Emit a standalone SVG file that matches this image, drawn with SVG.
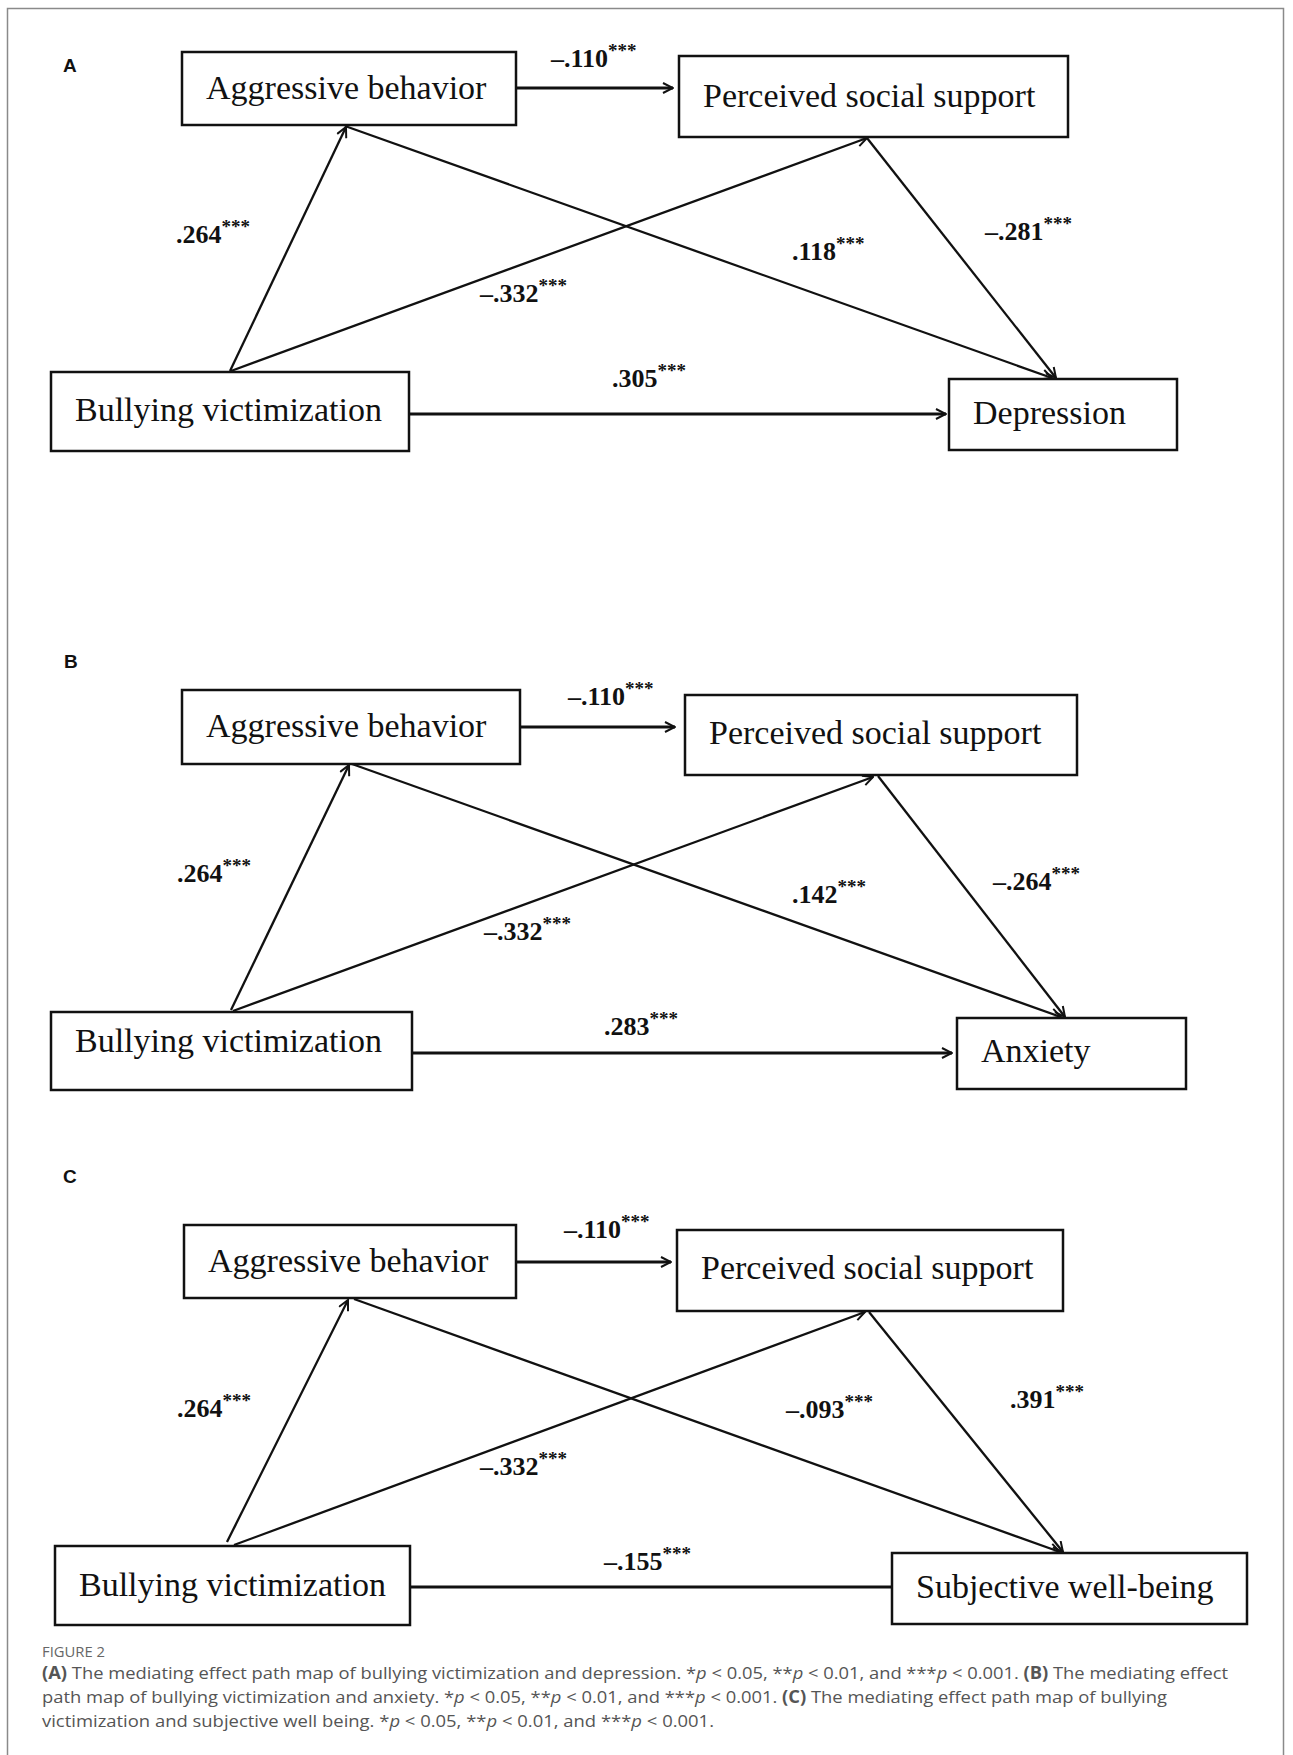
<svg xmlns="http://www.w3.org/2000/svg" width="1293" height="1755" viewBox="0 0 1293 1755">
<style>
.frame{fill:none;stroke:#8a8a8a;stroke-width:1.5}
.box{fill:#fff;stroke:#111;stroke-width:2.5}
.nt{font-family:"Liberation Serif","Times New Roman",serif;font-size:34px;fill:#111}
.edge{stroke:#111;stroke-width:2.3;fill:none}
.hedge{stroke:#111;stroke-width:2.8;fill:none}
.lbl{font-family:"Liberation Serif","Times New Roman",serif;font-weight:bold;font-size:26px;fill:#111}
.sup{font-size:19px}
.pl{font-family:"Liberation Sans",Arial,sans-serif;font-weight:bold;font-size:19px;fill:#111}
.fig{font-family:"Open Sans","Liberation Sans",sans-serif;font-size:15px;fill:#666}
.cap{font-family:"Open Sans","Liberation Sans",sans-serif;font-size:17px;fill:#555}
.b{font-weight:bold}
.i{font-style:italic}
</style>
<defs>
<marker id="arr" viewBox="0 0 12 12" markerWidth="12" markerHeight="12" markerUnits="userSpaceOnUse" refX="11" refY="6" orient="auto">
<path d="M1,1 L11,6 L1,11" fill="none" stroke="#111" stroke-width="2"/>
</marker>
</defs>
<rect width="1293" height="1755" fill="#fff"/>
<rect class="frame" x="7.5" y="8.5" width="1276" height="1760"/>

<!-- Panel A -->
<g id="panel-A">
<text class="pl" x="63" y="72">A</text>
<g id="connectors-A">
<path class="hedge" d="M516,88 L673,88" marker-end="url(#arr)"/>
<path class="edge" d="M230,371 L346,127" marker-end="url(#arr)"/>
<path class="edge" d="M231,371 L867,138" marker-end="url(#arr)"/>
<path class="edge" d="M345,126 L1052,378" marker-end="url(#arr)"/>
<path class="edge" d="M867,138 L1056,378" marker-end="url(#arr)"/>
<path class="hedge" d="M409,414 L946,414" marker-end="url(#arr)"/>
</g>
<g id="A-aggressive"><rect class="box" x="182" y="52" width="334" height="73"/><text class="nt" x="206" y="99">Aggressive behavior</text></g>
<g id="A-support"><rect class="box" x="679" y="56" width="389" height="81"/><text class="nt" x="703" y="107">Perceived social support</text></g>
<g id="A-bullying"><rect class="box" x="51" y="372" width="358" height="79"/><text class="nt" x="75" y="421">Bullying victimization</text></g>
<g id="A-depression"><rect class="box" x="949" y="379" width="228" height="71"/><text class="nt" x="973" y="424">Depression</text></g>
<g id="A-labels">
<text class="lbl" x="551" y="67">–.110<tspan class="sup" dy="-10">***</tspan></text>
<text class="lbl" x="176" y="243">.264<tspan class="sup" dy="-10">***</tspan></text>
<text class="lbl" x="480" y="302">–.332<tspan class="sup" dy="-10">***</tspan></text>
<text class="lbl" x="792" y="260">.118<tspan class="sup" dy="-10">***</tspan></text>
<text class="lbl" x="985" y="240">–.281<tspan class="sup" dy="-10">***</tspan></text>
<text class="lbl" x="612" y="387">.305<tspan class="sup" dy="-10">***</tspan></text>
</g>
</g>

<!-- Panel B -->
<g id="panel-B">
<text class="pl" x="64" y="668">B</text>
<g id="connectors-B">
<path class="hedge" d="M520,727 L675,727" marker-end="url(#arr)"/>
<path class="edge" d="M231,1010 L349,765" marker-end="url(#arr)"/>
<path class="edge" d="M233,1011 L873,777" marker-end="url(#arr)"/>
<path class="edge" d="M352,764 L1061,1017" marker-end="url(#arr)"/>
<path class="edge" d="M878,776 L1065,1017" marker-end="url(#arr)"/>
<path class="hedge" d="M412,1053 L952,1053" marker-end="url(#arr)"/>
</g>
<g id="B-aggressive"><rect class="box" x="182" y="690" width="338" height="74"/><text class="nt" x="206" y="737">Aggressive behavior</text></g>
<g id="B-support"><rect class="box" x="685" y="695" width="392" height="80"/><text class="nt" x="709" y="744">Perceived social support</text></g>
<g id="B-bullying"><rect class="box" x="51" y="1012" width="361" height="78"/><text class="nt" x="75" y="1052">Bullying victimization</text></g>
<g id="B-anxiety"><rect class="box" x="957" y="1018" width="229" height="71"/><text class="nt" x="981" y="1062">Anxiety</text></g>
<g id="B-labels">
<text class="lbl" x="568" y="705">–.110<tspan class="sup" dy="-10">***</tspan></text>
<text class="lbl" x="177" y="882">.264<tspan class="sup" dy="-10">***</tspan></text>
<text class="lbl" x="484" y="940">–.332<tspan class="sup" dy="-10">***</tspan></text>
<text class="lbl" x="792" y="903">.142<tspan class="sup" dy="-10">***</tspan></text>
<text class="lbl" x="993" y="890">–.264<tspan class="sup" dy="-10">***</tspan></text>
<text class="lbl" x="604" y="1035">.283<tspan class="sup" dy="-10">***</tspan></text>
</g>
</g>

<!-- Panel C -->
<g id="panel-C">
<text class="pl" x="63" y="1183">C</text>
<g id="connectors-C">
<path class="hedge" d="M516,1262 L671,1262" marker-end="url(#arr)"/>
<path class="edge" d="M227,1542 L348,1300" marker-end="url(#arr)"/>
<path class="edge" d="M234,1545 L865,1312" marker-end="url(#arr)"/>
<path class="edge" d="M354,1299 L1060,1552" marker-end="url(#arr)"/>
<path class="edge" d="M869,1312 L1063,1552" marker-end="url(#arr)"/>
<path class="hedge" d="M410,1587 L892,1587"/>
</g>
<g id="C-aggressive"><rect class="box" x="184" y="1225" width="332" height="73"/><text class="nt" x="208" y="1272">Aggressive behavior</text></g>
<g id="C-support"><rect class="box" x="677" y="1230" width="386" height="81"/><text class="nt" x="701" y="1279">Perceived social support</text></g>
<g id="C-bullying"><rect class="box" x="55" y="1546" width="355" height="79"/><text class="nt" x="79" y="1596">Bullying victimization</text></g>
<g id="C-wellbeing"><rect class="box" x="892" y="1553" width="355" height="71"/><text class="nt" x="916" y="1598">Subjective well-being</text></g>
<g id="C-labels">
<text class="lbl" x="564" y="1238">–.110<tspan class="sup" dy="-10">***</tspan></text>
<text class="lbl" x="177" y="1417">.264<tspan class="sup" dy="-10">***</tspan></text>
<text class="lbl" x="480" y="1475">–.332<tspan class="sup" dy="-10">***</tspan></text>
<text class="lbl" x="786" y="1418">–.093<tspan class="sup" dy="-10">***</tspan></text>
<text class="lbl" x="1010" y="1408">.391<tspan class="sup" dy="-10">***</tspan></text>
<text class="lbl" x="604" y="1570">–.155<tspan class="sup" dy="-10">***</tspan></text>
</g>
</g>

<!-- Caption -->
<g id="caption">
<text class="fig" x="42" y="1657" textLength="63" lengthAdjust="spacingAndGlyphs">FIGURE 2</text>
<text class="cap" x="42" y="1679" textLength="1186" lengthAdjust="spacingAndGlyphs"><tspan class="b">(A)</tspan> The mediating effect path map of bullying victimization and depression. *<tspan class="i">p</tspan> &lt; 0.05, **<tspan class="i">p</tspan> &lt; 0.01, and ***<tspan class="i">p</tspan> &lt; 0.001. <tspan class="b">(B)</tspan> The mediating effect</text>
<text class="cap" x="42" y="1703" textLength="1125" lengthAdjust="spacingAndGlyphs">path map of bullying victimization and anxiety. *<tspan class="i">p</tspan> &lt; 0.05, **<tspan class="i">p</tspan> &lt; 0.01, and ***<tspan class="i">p</tspan> &lt; 0.001. <tspan class="b">(C)</tspan> The mediating effect path map of bullying</text>
<text class="cap" x="42" y="1727" textLength="672" lengthAdjust="spacingAndGlyphs">victimization and subjective well being. *<tspan class="i">p</tspan> &lt; 0.05, **<tspan class="i">p</tspan> &lt; 0.01, and ***<tspan class="i">p</tspan> &lt; 0.001.</text>
</g>
</svg>
